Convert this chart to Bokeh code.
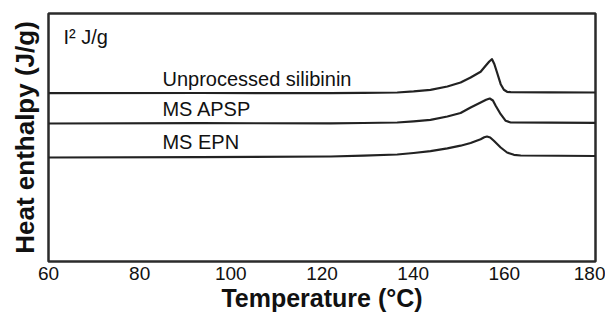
from bokeh.plotting import figure
from bokeh.models import Range1d, FixedTicker
from bokeh.core.properties import value
from bokeh.embed import file_html
from bokeh.resources import INLINE

# Temperatures (°C) and heat-flow readings (arbitrary units)
temp_unprocessed = [60, 93.3, 121.9, 129.1, 136.5, 140.1, 143.8, 147.5, 150.4, 152.6, 154.8, 155.9, 156.7, 157.3, 157.8, 158.4, 159.2, 159.9, 160.6, 161.4, 170, 180]
heat_unprocessed = [168.3, 168.5, 168.4, 168.6, 169.0, 170.1, 171.7, 175.0, 179.0, 184.0, 189.7, 195.7, 200.0, 202.3, 197.5, 189.0, 177.3, 171.7, 169.7, 169.3, 169.1, 169.0]

temp_apsp = [60, 93.3, 121.9, 129.1, 136.5, 140.1, 143.8, 147.5, 150.4, 152.6, 154.8, 156.0, 156.8, 157.5, 158.1, 159.2, 160.3, 161.4, 170, 180]
heat_apsp = [138.0, 138.3, 138.2, 138.5, 139.0, 140.2, 141.7, 145.0, 148.5, 154.0, 159.0, 161.8, 163.0, 161.0, 155.7, 147.3, 140.7, 139.0, 138.8, 138.7]

temp_epn = [60, 93.3, 121.9, 129.1, 136.5, 140.1, 143.8, 147.5, 150.4, 152.6, 154.8, 155.6, 156.2, 156.9, 157.7, 159.2, 160.6, 162.1, 163.6, 180]
heat_epn = [104.0, 104.4, 105.0, 105.8, 107.0, 108.5, 110.3, 113.2, 115.8, 118.5, 122.3, 124.2, 125.0, 124.0, 120.7, 114.0, 109.0, 106.7, 106.0, 105.5]

labels = ["Unprocessed silibinin", "MS APSP", "MS EPN"]
label_temp = [85.0, 85.0, 85.0]
label_heat = [183.0, 153.0, 119.5]

scale_text = "I\u00b2 J/g"
scale_temp = 63.3
scale_heat = 225.0

x_ticks = [60, 80, 100, 120, 140, 160, 180]

FONT = "Liberation Sans"

p = figure(frame_width=547, frame_height=248, output_backend="svg", toolbar_location=None,
           x_range=Range1d(60, 180), y_range=Range1d(0, 248))
p.min_border_left = 48
p.min_border_right = 10
p.min_border_top = 13
p.min_border_bottom = 57
p.background_fill_color = "white"
p.border_fill_color = "white"
p.outline_line_color = "#2b2b2b"
p.outline_line_width = 2.5
p.xgrid.visible = False
p.ygrid.visible = False

p.xaxis.ticker = FixedTicker(ticks=x_ticks)
p.xaxis.axis_line_color = None
p.xaxis.major_tick_line_color = None
p.xaxis.minor_tick_line_color = None
p.xaxis.major_tick_out = 0
p.xaxis.major_tick_in = 0
p.xaxis.major_label_standoff = 5
p.xaxis.major_label_text_font = FONT
p.xaxis.major_label_text_font_size = "19px"
p.xaxis.major_label_text_color = "#111111"
p.xaxis.axis_label = "Temperature (\u00b0C)"
p.xaxis.axis_label_text_font = FONT
p.xaxis.axis_label_text_font_style = "bold"
p.xaxis.axis_label_text_font_size = "25px"
p.xaxis.axis_label_text_color = "#111111"
p.xaxis.axis_label_standoff = 1

p.yaxis.ticker = FixedTicker(ticks=[])
p.yaxis.axis_line_color = None
p.yaxis.major_tick_line_color = None
p.yaxis.minor_tick_line_color = None
p.yaxis.major_tick_out = 0
p.yaxis.major_tick_in = 0
p.yaxis.major_label_standoff = 0
p.yaxis.axis_label = "Heat enthalpy (J/g)"
p.yaxis.axis_label_text_font = FONT
p.yaxis.axis_label_text_font_style = "bold"
p.yaxis.axis_label_text_font_size = "26px"
p.yaxis.axis_label_text_color = "#111111"
p.yaxis.axis_label_standoff = 9

for t, h in [(temp_unprocessed, heat_unprocessed), (temp_apsp, heat_apsp), (temp_epn, heat_epn)]:
    p.line(t, h, line_color="#222222", line_width=2.2, line_join="round")

p.text(x=label_temp, y=label_heat, text=labels, text_font=value(FONT),
       text_font_size="20px", text_color="#111111", text_align="left", text_baseline="middle")
p.text(x=[scale_temp], y=[scale_heat], text=[scale_text], text_font=value(FONT),
       text_font_size="20px", text_color="#111111", text_align="left", text_baseline="middle")

open("out.html", "w").write(file_html(p, INLINE))
